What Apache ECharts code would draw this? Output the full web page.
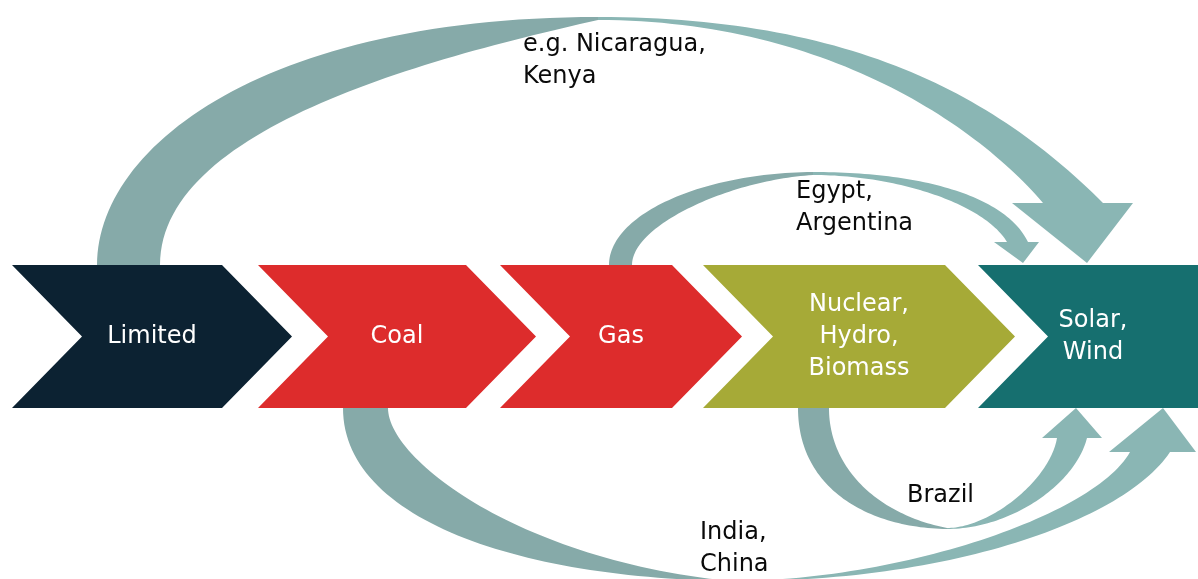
<!DOCTYPE html>
<html><head><meta charset="utf-8">
<script src="https://cdn.jsdelivr.net/npm/echarts@6/dist/echarts.min.js"></script>
<style>html,body{margin:0;padding:0;background:#fff}#c{width:1198px;height:579px}</style>
</head><body><div id="c"></div>
<script>
// ---- data ----
const stageNames = ['Limited', 'Coal', 'Gas', 'Nuclear,\nHydro,\nBiomass', 'Solar,\nWind'];
const flowFrom = [0, 2, 1, 3];
const flowTo = [4, 4, 4, 4];
const flowLabels = ['e.g. Nicaragua,\nKenya', 'Egypt,\nArgentina', 'India,\nChina', 'Brazil'];

// ---- styles ----
const stageColors = ['#0c2232', '#dd2c2c', '#dd2c2c', '#a6aa37', '#166f6f'];
const flowColorIn = '#86aaa9';
const flowColorOut = '#8ab6b4';
const FONT = '"DejaVu Sans", sans-serif';
const FS = 24;

// ---- layout (units of the hidden pixel-like axes) ----
const CH = { top: 265, bottom: 408, depth: 70 };
const chevronX = [[12, 222], [258, 466], [500, 672], [703, 945], [978, 1215]];
const stageTextX = [152, 397, 621, 859, 1093];
// each flow: two edge curves from the source stage to the thin point (in),
// two edge curves from the thin point to the arrow head (out), head base and tip
const flowGeom = [
  { in: [[[97, 265], [97, 145], [268, 17], [598, 17]],
         [[160, 265], [160, 130], [420, 60], [598, 20]]],
    out: [[[598, 17], [848, 17], [993, 93], [1103, 203]],
          [[598, 20], [818, 20], [971.5, 119.4], [1043, 203]]],
    head: [1012, 1133, 203], tip: [1087, 263], label: [523, 45] },
  { in: [[[609, 265], [609, 215], [700, 173], [813, 172]],
         [[632, 265], [632, 225], [730, 180], [813, 175]]],
    out: [[[813, 172], [920, 172], [1005, 195], [1028, 242]],
          [[813, 175], [900, 175], [985, 205], [1007, 242]]],
    head: [994, 1039, 242], tip: [1023, 263], label: [796, 192] },
  { in: [[[343, 408], [343, 520], [520, 578], [730, 581]],
         [[388, 408], [388, 460], [520, 560], [730, 581]]],
    out: [[[730, 581], [900, 581], [1095, 515], [1130, 452]],
          [[730, 581], [950, 583], [1125, 520], [1170, 452]]],
    head: [1109, 1196, 452], tip: [1163, 408], label: [700, 533] },
  { in: [[[798, 408], [798, 490], [870, 528], [947, 529]],
         [[829, 408], [829, 470], [880, 515], [947, 528]]],
    out: [[[947, 528], [990, 528], [1050, 480], [1057, 438]],
          [[947, 529], [1010, 529], [1075, 485], [1087, 438]]],
    head: [1042, 1102, 438], tip: [1076, 408], label: [907, 496] }
];

function bez(p, t) {
  const u = 1 - t;
  const a = u * u * u, b = 3 * u * u * t, c = 3 * u * t * t, d = t * t * t;
  return [a * p[0][0] + b * p[1][0] + c * p[2][0] + d * p[3][0],
          a * p[0][1] + b * p[1][1] + c * p[2][1] + d * p[3][1]];
}
function sample(p) {
  const out = [], N = 60;
  for (let i = 0; i <= N; i++) out.push(bez(p, i / N));
  return out;
}

const chart = echarts.init(document.getElementById('c'), null, { renderer: 'canvas' });

function renderStage(params, api) {
  const i = params.dataIndex;
  const [x0, x1] = chevronX[i];
  const d = CH.depth, mid = (CH.top + CH.bottom) / 2;
  const last = i === stageNames.length - 1;
  const pts = last
    ? [[x0, CH.top], [x1, CH.top], [x1, CH.bottom], [x0, CH.bottom], [x0 + d, mid]]
    : [[x0, CH.top], [x1, CH.top], [x1 + d, mid], [x1, CH.bottom], [x0, CH.bottom], [x0 + d, mid]];
  const tp = api.coord([stageTextX[i], mid]);
  return {
    type: 'group',
    children: [
      { type: 'polygon', shape: { points: pts.map(p => api.coord(p)) }, style: { fill: stageColors[i] } },
      { type: 'text', style: { text: stageNames[i], x: tp[0], y: tp[1], fill: '#ffffff',
          fontSize: FS, fontFamily: FONT, align: 'center', verticalAlign: 'middle', lineHeight: 32 } }
    ]
  };
}

function renderFlow(params, api) {
  const g = flowGeom[params.dataIndex];
  const a1 = sample(g.in[0]), b1 = sample(g.in[1]);
  const a2 = sample(g.out[0]), b2 = sample(g.out[1]);
  const p1 = a1.concat(b1.slice().reverse());
  const ea = a2[a2.length - 1], eb = b2[b2.length - 1];
  const [hx0, hx1, hy] = g.head;
  const ca = ea[0] < eb[0] ? [hx0, hy] : [hx1, hy];
  const cb = ea[0] < eb[0] ? [hx1, hy] : [hx0, hy];
  const p2 = a2.concat([ca, g.tip, cb], b2.slice().reverse());
  const lp = api.coord(g.label);
  return {
    type: 'group',
    children: [
      { type: 'polygon', shape: { points: p1.map(p => api.coord(p)) }, style: { fill: flowColorIn } },
      { type: 'polygon', shape: { points: p2.map(p => api.coord(p)) }, style: { fill: flowColorOut } },
      { type: 'text', style: { text: flowLabels[params.dataIndex], x: lp[0], y: lp[1] - 16, fill: '#0a0a0a',
          fontSize: FS, fontFamily: FONT, align: 'left', verticalAlign: 'top', lineHeight: 32 } }
    ]
  };
}

chart.setOption({
  animation: false,
  backgroundColor: '#ffffff',
  grid: { left: 0, right: 0, top: 0, bottom: 0 },
  xAxis: { type: 'value', min: 0, max: 1198, show: false },
  yAxis: { type: 'value', min: 0, max: 579, inverse: true, show: false },
  series: [
    { type: 'custom', name: 'flows', coordinateSystem: 'cartesian2d', z: 1, clip: false,
      data: flowFrom.map((f, i) => ({ value: [f, flowTo[i]], name: flowLabels[i] })),
      renderItem: renderFlow },
    { type: 'custom', name: 'stages', coordinateSystem: 'cartesian2d', z: 2, clip: false,
      data: stageNames.map((n, i) => ({ value: [i, 0], name: n })),
      renderItem: renderStage }
  ]
});
</script></body></html>
